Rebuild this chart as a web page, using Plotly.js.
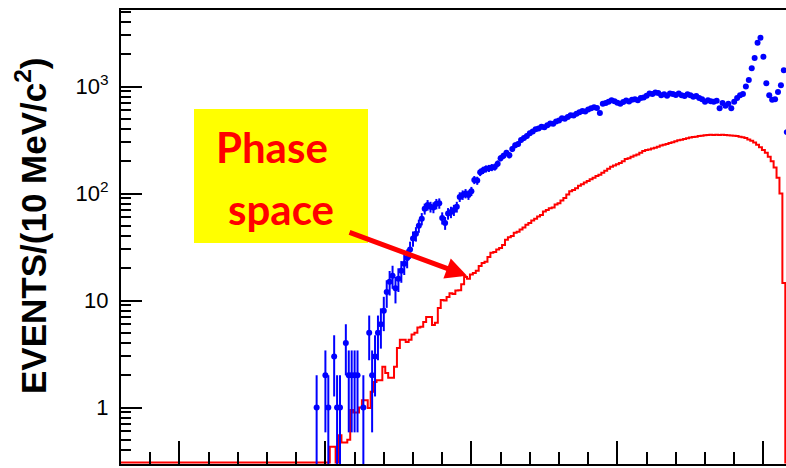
<!DOCTYPE html>
<html>
<head>
<meta charset="utf-8">
<script src="https://cdn.plot.ly/plotly-3.0.1.min.js"></script>
<style>
  html, body { margin: 0; padding: 0; overflow: hidden; background: #fff; }
  #chart { width: 800px; height: 468px; }
</style>
</head>
<body>
<div id="chart"></div>
<script>
// Mass spectrum in 10 MeV/c^2 bins (bin centres in GeV/c^2).
const binWidth = 0.01;

// Phase-space MC histogram, first bin centre 0.80
const psFirstBin = 0.80;
const phaseSpace = [
  0,0,0,0,0,0,0,0,0,0, 0,0,0,0,0,0,0,0,0,0,
  0,0,0,0,0,0,0,0,0,0, 0,0,0,0,0,0,0,0,0,0,
  0,0,0,0,0,0,0,0,0,0, 0,0,0,0,0,0,0,0,0,0,
  0,0,0,0,0,0,0,0,0,0, 0,0,
  0.43, 0.43, 0, 0.55, 0.47, 0.47, 0.50, 0.95,
  0.90, 0.90, 1.0, 1.17, 1.17, 0.99, 1.4, 1.73, 1.8, 1.8,
  2.4, 2.1, 1.9, 1.9, 2.4, 3.6, 4.3, 4.3, 4.1, 4.3,
  4.8, 5.0, 5.6, 5.7, 6.3, 7.0, 7.0, 5.9, 6.2, 8.5,
  10.1, 10.0, 10.8, 11.7, 11.5, 12.4, 12.5, 14.2, 16.6, 16.0,
  17.5, 18.1, 19.0, 21.0, 22.4, 23.0, 25.5, 28.0, 28.4, 30.0,
  31, 33, 37, 39, 40, 43, 44, 46, 48, 51,
  53, 56, 58, 61, 63, 68, 70, 73, 74, 79,
  81, 86, 91, 98, 105, 108, 112, 118, 122, 127,
  131, 136, 140, 146, 150, 156, 163, 170, 178, 183,
  188, 193, 200, 210, 214, 220, 226, 232, 240, 250,
  255, 258, 263, 268, 274, 281, 285, 290, 296, 302,
  308, 314, 318, 323, 328, 334, 337, 340, 344, 346,
  350, 352, 354, 352, 355, 353, 355, 352, 350, 348,
  346, 344, 340, 336, 330, 320, 312, 300, 285, 270,
  255, 240, 220, 200, 175, 140, 100, 14.6,
  0, 0, 0
];

// Observed events per bin, first bin centre 1.47
const dataFirstBin = 1.47;
const dataCounts = [
  1, 0, 0,
  2, 1, 0, 3, 1, 1, 0, 4, 2, 2,
  2, 2, 0, 1, 0, 5, 2, 3, 5, 6,
  8, 12, 15, 17, 13, 16, 19, 22, 25, 30,
  38, 42, 50, 58, 72, 78, 75, 74, 80, 81,
  59, 53, 65, 67, 70, 75, 93, 97, 100, 97,
  105, 134, 132, 158, 165, 170, 172, 175, 177, 190,
  214, 225, 240, 228, 260, 282, 290, 316, 330, 345,
  366, 380, 398, 405, 420, 415, 435, 450, 448, 470,
  480, 505, 500, 520, 540, 535, 555, 575, 590, 585,
  610, 625, 640, 630, 565, 690, 700, 720, 745, 730,
  705, 690, 715, 740, 725, 750, 760, 745, 780, 790,
  820, 860, 850, 880, 870, 830, 845, 820, 860, 850,
  835, 860, 830, 815, 845, 830, 800, 815, 780, 760,
  720, 745, 730, 720, 735, 625, 700, 660, 690, 625,
  720, 780, 830, 850, 1000, 1150, 1480, 1850, 2560, 2850,
  1900, 1070, 830, 750, 760, 890, 1030, 1420, 375
];

// Axis ticks
const yTickVals = [1, 10, 100, 1000];
const yTickText = ['1', '10', '10<sup>2</sup>', '10<sup>3</sup>'];
const yMinorVals = [0.3, 0.4, 0.5, 0.6, 0.7, 0.8, 0.9,
  2, 3, 4, 5, 6, 7, 8, 9,
  20, 30, 40, 50, 60, 70, 80, 90,
  200, 300, 400, 500, 600, 700, 800, 900,
  2000, 3000, 4000, 5000];

const yRange = [-0.528, 3.715];               // log10 units
const xRange = [0.80, 0.80 + 671 / 292];

const binCentre = (first, i) => +(first + i * binWidth).toFixed(3);

// empty MC bins are drawn along the lower frame edge, as on a log pad
const yFloor = Math.pow(10, yRange[0] + 0.014);
const psX = phaseSpace.map((_, i) => binCentre(psFirstBin, i));
const psY = phaseSpace.map(v => (v > 0 ? v : yFloor));

const dX = dataCounts.map((_, i) => binCentre(dataFirstBin, i));
const dY = dataCounts.map(n => (n > 0 ? n : null));
const dErr = dataCounts.map(n => (n > 0 ? Math.sqrt(n) : null));

const traces = [
  {
    type: 'scatter', mode: 'lines', name: 'Phase space',
    x: psX, y: psY,
    line: { color: '#ff0000', width: 2, shape: 'hvh' },
    hoverinfo: 'skip'
  },
  {
    type: 'scatter', mode: 'markers', name: 'Data',
    x: dX, y: dY,
    marker: { color: '#0000ff', size: 6, symbol: 'circle' },
    error_y: { type: 'data', array: dErr, visible: true, color: '#0000ff', thickness: 2, width: 0 },
    cliponaxis: false
  }
];

const labelFont = { family: 'Liberation Sans, Arial, sans-serif', size: 22, color: '#000' };
const noteFont = { family: 'Lato, sans-serif', size: 42, color: '#ff0000', weight: 'bold' };

const paperX = px => (px - 121) / 671;
const paperY = py => (464 - py) / 454;

const layout = {
  width: 800, height: 468,
  margin: { l: 121, r: 8, t: 10, b: 4, pad: 0 },
  paper_bgcolor: '#fff', plot_bgcolor: '#fff',
  showlegend: false,
  xaxis: {
    type: 'linear', range: xRange, autorange: false,
    showgrid: false, zeroline: false,
    showline: true, linecolor: '#000', linewidth: 2, mirror: true,
    tickmode: 'linear', tick0: 1.0, dtick: 0.5,
    ticks: 'inside', ticklen: 23, tickwidth: 2, tickcolor: '#000',
    showticklabels: false,
    minor: { tick0: 1.0, dtick: 0.1, ticks: 'inside', ticklen: 12, tickwidth: 2, tickcolor: '#000', showgrid: false }
  },
  yaxis: {
    type: 'log', range: yRange, autorange: false,
    showgrid: false, zeroline: false,
    showline: true, linecolor: '#000', linewidth: 2, mirror: false,
    tickmode: 'array', tickvals: yTickVals, ticktext: yTickText,
    ticks: 'inside', ticklen: 21, tickwidth: 2, tickcolor: '#000',
    tickfont: labelFont, ticklabelstandoff: 6,
    minor: { tickmode: 'array', tickvals: yMinorVals, ticks: 'inside', ticklen: 10, tickwidth: 2, tickcolor: '#000', showgrid: false }
  },
  shapes: [
    { type: 'rect', xref: 'paper', yref: 'paper',
      x0: paperX(194), x1: paperX(368), y0: paperY(243), y1: paperY(109),
      fillcolor: '#ffff00', line: { width: 0 }, layer: 'above' }
  ],
  annotations: [
    { xref: 'paper', yref: 'paper', x: paperX(31), y: paperY(226),
      xanchor: 'center', yanchor: 'middle', textangle: -90, showarrow: false,
      text: 'EVENTS/(10 MeV/c<sup>2</sup>)',
      font: { family: 'Liberation Sans, Arial, sans-serif', size: 35, color: '#000', weight: 'bold' } },
    { xref: 'paper', yref: 'paper', x: paperX(272), y: paperY(147),
      xanchor: 'center', yanchor: 'middle', showarrow: false,
      text: 'Phase', font: noteFont },
    { xref: 'paper', yref: 'paper', x: paperX(281), y: paperY(209),
      xanchor: 'center', yanchor: 'middle', showarrow: false,
      text: 'space', font: noteFont },
    { xref: 'x', yref: 'y', x: 1.985, y: Math.log10(17), text: '',
      showarrow: true, arrowhead: 2, arrowsize: 0.85, arrowwidth: 5, arrowcolor: '#ff0000',
      ax: -119, ay: -44, standoff: 0 }
  ]
};

Plotly.newPlot('chart', traces, layout, { staticPlot: true, displayModeBar: false });
</script>
</body>
</html>
